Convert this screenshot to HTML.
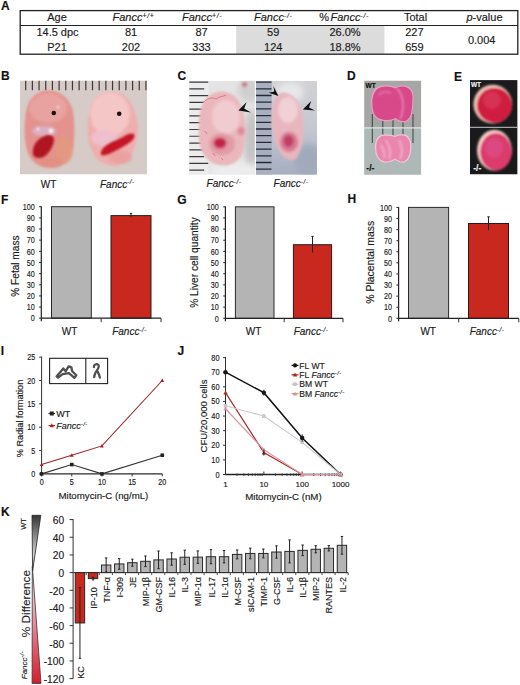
<!DOCTYPE html>
<html><head><meta charset="utf-8"><style>
html,body{margin:0;padding:0;background:#fff;}
body{width:520px;height:685px;overflow:hidden;font-family:"Liberation Sans", sans-serif;}
svg{display:block;}
text{stroke:#1a1a1a;stroke-width:0.15px;}
text.w{stroke:#f4f4f4;}
</style></head><body>
<svg width="520" height="685" viewBox="0 0 520 685" font-family='"Liberation Sans", sans-serif'>
<defs>
<filter id="blur06" x="-20%" y="-20%" width="140%" height="140%"><feGaussianBlur stdDeviation="0.75"/></filter>
<filter id="b30" x="-50%" y="-50%" width="200%" height="200%"><feGaussianBlur stdDeviation="3"/></filter>
<filter id="b15" x="-20%" y="-20%" width="140%" height="140%"><feGaussianBlur stdDeviation="1.5"/></filter>
<filter id="b10" x="-20%" y="-20%" width="140%" height="140%"><feGaussianBlur stdDeviation="1.0"/></filter>
<filter id="b06" x="-20%" y="-20%" width="140%" height="140%"><feGaussianBlur stdDeviation="0.6"/></filter>
<filter id="b08" x="-20%" y="-20%" width="140%" height="140%"><feGaussianBlur stdDeviation="0.8"/></filter>
<linearGradient id="gC1" x1="0" y1="0" x2="1" y2="0"><stop offset="0" stop-color="#dcdcdc"/><stop offset="0.6" stop-color="#e8e8e8"/><stop offset="1" stop-color="#c8c8c8"/></linearGradient>
<linearGradient id="gC2" x1="0" y1="0" x2="0" y2="1"><stop offset="0" stop-color="#d2d2d4"/><stop offset="0.5" stop-color="#c4c8d0"/><stop offset="1" stop-color="#a6aec0"/></linearGradient>
<pattern id="noiseB" width="8" height="8" patternUnits="userSpaceOnUse"><rect width="8" height="8" fill="#d9d5d1"/><rect x="1" y="2" width="1" height="1" fill="#b8b2ac"/><rect x="5" y="5" width="1" height="1" fill="#ece8e4"/><rect x="6" y="1" width="1" height="1" fill="#c0bab4"/><rect x="3" y="6" width="1" height="1" fill="#e8e4e0"/></pattern>
<linearGradient id="gwt" x1="0" y1="0" x2="0" y2="1"><stop offset="0" stop-color="#363636"/><stop offset="0.72" stop-color="#d4d4d4"/><stop offset="1" stop-color="#909090"/></linearGradient>
<linearGradient id="gko" x1="0" y1="0" x2="0" y2="1"><stop offset="0" stop-color="#fbe8ea"/><stop offset="0.3" stop-color="#f2b8c0"/><stop offset="0.6" stop-color="#e4707e"/><stop offset="1" stop-color="#d61c2c"/></linearGradient>
</defs>
<rect width="520" height="685" fill="#fff"/>
<text x="1.00" y="9.90" font-size="12" text-anchor="start" font-weight="bold" fill="#111">A</text>
<rect x="236.2" y="26" width="148.2" height="28" fill="#dcdcdc"/>
<rect x="20.2" y="10.6" width="497.6" height="43.6" fill="none" stroke="#222" stroke-width="1.3"/>
<line x1="20" y1="25.5" x2="518" y2="25.5" stroke="#222" stroke-width="1.2"/>
<text x="57.00" y="21.20" font-size="11" text-anchor="middle" fill="#1a1a1a">Age</text>
<text x="57.50" y="36.00" font-size="11" text-anchor="middle" fill="#1a1a1a">14.5 dpc</text>
<text x="57.00" y="51.00" font-size="11" text-anchor="middle" fill="#1a1a1a">P21</text>
<text x="112.5" y="21.2" font-size="11" fill="#1a1a1a"><tspan font-style="italic">Fancc</tspan><tspan font-size="6.8" dy="-2.8" letter-spacing="0.7" font-style="italic">+/+</tspan></text>
<text x="182" y="21.2" font-size="11" fill="#1a1a1a"><tspan font-style="italic">Fancc</tspan><tspan font-size="6.8" dy="-2.8" letter-spacing="0.7" font-style="italic">+/-</tspan></text>
<text x="254" y="21.2" font-size="11" fill="#1a1a1a"><tspan font-style="italic">Fancc</tspan><tspan font-size="6.8" dy="-2.8" letter-spacing="0.7" font-style="italic">-/-</tspan></text>
<text x="319.3" y="21.2" font-size="11" fill="#1a1a1a">%<tspan font-size="5"> </tspan><tspan font-style="italic">Fancc</tspan><tspan font-size="6.8" dy="-2.8" letter-spacing="0.7" font-style="italic">-/-</tspan></text>
<text x="131.00" y="36.00" font-size="11" text-anchor="middle" fill="#1a1a1a">81</text>
<text x="131.00" y="51.00" font-size="11" text-anchor="middle" fill="#1a1a1a">202</text>
<text x="201.50" y="36.00" font-size="11" text-anchor="middle" fill="#1a1a1a">87</text>
<text x="201.50" y="51.00" font-size="11" text-anchor="middle" fill="#1a1a1a">333</text>
<text x="273.20" y="36.00" font-size="11" text-anchor="middle" fill="#1a1a1a">59</text>
<text x="273.20" y="51.00" font-size="11" text-anchor="middle" fill="#1a1a1a">124</text>
<text x="345.00" y="36.00" font-size="11" text-anchor="middle" fill="#1a1a1a">26.0%</text>
<text x="345.00" y="51.00" font-size="11" text-anchor="middle" fill="#1a1a1a">18.8%</text>
<text x="415.50" y="21.20" font-size="11" text-anchor="middle" fill="#1a1a1a">Total</text>
<text x="414.40" y="36.00" font-size="11" text-anchor="middle" fill="#1a1a1a">227</text>
<text x="414.40" y="51.00" font-size="11" text-anchor="middle" fill="#1a1a1a">659</text>
<text x="484.5" y="21.2" font-size="11" text-anchor="middle" fill="#1a1a1a"><tspan font-style="italic">p</tspan>-value</text>
<text x="481.70" y="43.60" font-size="11" text-anchor="middle" fill="#1a1a1a">0.004</text>
<clipPath id="cB"><rect x="20" y="80.5" width="127.2" height="94"/></clipPath>
<g clip-path="url(#cB)">
<rect x="20" y="80.5" width="127.2" height="94" fill="#d6cbc6"/>
<line x1="25.70" y1="80.5" x2="25.70" y2="90.2" stroke="#3a3a3a" stroke-width="1.2"/>
<line x1="32.38" y1="80.5" x2="32.38" y2="90.2" stroke="#3a3a3a" stroke-width="1.2"/>
<line x1="39.06" y1="80.5" x2="39.06" y2="90.2" stroke="#3a3a3a" stroke-width="1.2"/>
<line x1="45.74" y1="80.5" x2="45.74" y2="90.2" stroke="#3a3a3a" stroke-width="1.2"/>
<line x1="52.42" y1="80.5" x2="52.42" y2="90.2" stroke="#3a3a3a" stroke-width="1.2"/>
<line x1="59.10" y1="80.5" x2="59.10" y2="90.2" stroke="#3a3a3a" stroke-width="1.2"/>
<line x1="65.78" y1="80.5" x2="65.78" y2="90.2" stroke="#3a3a3a" stroke-width="1.2"/>
<line x1="72.46" y1="80.5" x2="72.46" y2="90.2" stroke="#3a3a3a" stroke-width="1.2"/>
<line x1="79.14" y1="80.5" x2="79.14" y2="90.2" stroke="#3a3a3a" stroke-width="1.2"/>
<line x1="85.82" y1="80.5" x2="85.82" y2="90.2" stroke="#3a3a3a" stroke-width="1.2"/>
<line x1="92.50" y1="80.5" x2="92.50" y2="90.2" stroke="#3a3a3a" stroke-width="1.2"/>
<line x1="99.18" y1="80.5" x2="99.18" y2="90.2" stroke="#3a3a3a" stroke-width="1.2"/>
<line x1="105.86" y1="80.5" x2="105.86" y2="90.2" stroke="#3a3a3a" stroke-width="1.2"/>
<line x1="112.54" y1="80.5" x2="112.54" y2="90.2" stroke="#3a3a3a" stroke-width="1.2"/>
<line x1="119.22" y1="80.5" x2="119.22" y2="90.2" stroke="#3a3a3a" stroke-width="1.2"/>
<line x1="125.90" y1="80.5" x2="125.90" y2="90.2" stroke="#3a3a3a" stroke-width="1.2"/>
<line x1="132.58" y1="80.5" x2="132.58" y2="90.2" stroke="#3a3a3a" stroke-width="1.2"/>
<line x1="139.26" y1="80.5" x2="139.26" y2="90.2" stroke="#3a3a3a" stroke-width="1.2"/>
<line x1="145.94" y1="80.5" x2="145.94" y2="90.2" stroke="#3a3a3a" stroke-width="1.2"/>
<g filter="url(#b10)">
<path d="M47,90.5 C58,90 68,96 72,108 C75,118 75,135 73,148 C71,160 63,168 52,168 C40,168 30,162 27,150 C24,140 24,125 26,112 C28,100 36,91 47,90.5 Z" fill="#e4928e"/>
</g>
<g filter="url(#b15)">
<ellipse cx="48" cy="108" rx="19" ry="15" fill="#e8a2a0"/>
<ellipse cx="64" cy="150" rx="9" ry="14" fill="#e29a7c" opacity="0.7"/>
<ellipse cx="44" cy="131" rx="12" ry="5" fill="#dcb0c4"/>
<ellipse cx="50" cy="162" rx="12" ry="4" fill="#e0907a" opacity="0.6"/>
</g>
<g filter="url(#b10)">
<path d="M33,150 C34,142 41,136 49,135 C55,135 55,141 52,147 C49,153 45,158 39,158 C34,158 32,155 33,150 Z" fill="#b01224"/>
<circle cx="51" cy="131" r="2.4" fill="#f6eef0"/>
<circle cx="38" cy="129" r="1.5" fill="#f4e8ea"/>
<circle cx="58" cy="107" r="1.2" fill="#f6e8ea"/>
</g>
<circle cx="53.8" cy="113" r="2.3" fill="#1e1012"/>
<g filter="url(#b10)">
<path d="M113.4,91.9 C124,92 132,102 135.5,114 C138,122 138.5,132 136,142 C134,152 127,163 117,165.6 C108,167 98,163 93,153 C89,146 87.5,136 87.8,126 C88,115 91,104 98,97 C102,93.5 108,91.9 113.4,91.9 Z" fill="#eeaeae"/>
</g>
<g filter="url(#b15)">
<ellipse cx="110" cy="114" rx="20" ry="22" fill="#f4c6c6"/>
<ellipse cx="104" cy="138" rx="13" ry="8" fill="#eec0cc"/>
<ellipse cx="120" cy="157" rx="12" ry="7" fill="#eaa2a0"/>
</g>
<g filter="url(#b08)">
<path d="M101,152 C103,146 111,142 119,139 C125,136 130,132 134,134 C136,138 131,142 126,145 C119,149 112,153 106,155 C102,156 100,155 101,152 Z" fill="#c41628"/>
</g>
<circle cx="119.2" cy="113.8" r="2.3" fill="#1e1012"/>
</g>
<clipPath id="cC1"><rect x="189.2" y="80.8" width="65.6" height="93.6"/></clipPath>
<clipPath id="cC2"><rect x="255.8" y="80.8" width="61.2" height="94"/></clipPath>
<g clip-path="url(#cC1)">
<rect x="189.2" y="80.8" width="66" height="94" fill="#e4e4e4"/>
<g filter="url(#b30)">
<ellipse cx="250" cy="90" rx="12" ry="12" fill="#cfcfcf"/>
<ellipse cx="252" cy="140" rx="8" ry="30" fill="#c4c4c4"/>
<ellipse cx="235" cy="170" rx="25" ry="8" fill="#ededed"/>
</g>
<rect x="189.2" y="80.8" width="19.5" height="94" fill="#ececec"/>
<line x1="189.2" y1="82.10" x2="208.2" y2="82.10" stroke="#3a3a3e" stroke-width="1.2"/>
<line x1="189.2" y1="88.87" x2="204.2" y2="88.87" stroke="#3a3a3e" stroke-width="1.2"/>
<line x1="189.2" y1="95.64" x2="208.2" y2="95.64" stroke="#3a3a3e" stroke-width="1.2"/>
<line x1="189.2" y1="102.41" x2="204.2" y2="102.41" stroke="#3a3a3e" stroke-width="1.2"/>
<line x1="189.2" y1="109.18" x2="208.2" y2="109.18" stroke="#3a3a3e" stroke-width="1.2"/>
<line x1="189.2" y1="115.95" x2="204.2" y2="115.95" stroke="#3a3a3e" stroke-width="1.2"/>
<line x1="189.2" y1="122.72" x2="208.2" y2="122.72" stroke="#3a3a3e" stroke-width="1.2"/>
<line x1="189.2" y1="129.49" x2="204.2" y2="129.49" stroke="#3a3a3e" stroke-width="1.2"/>
<line x1="189.2" y1="136.26" x2="208.2" y2="136.26" stroke="#3a3a3e" stroke-width="1.2"/>
<line x1="189.2" y1="143.03" x2="204.2" y2="143.03" stroke="#3a3a3e" stroke-width="1.2"/>
<line x1="189.2" y1="149.80" x2="208.2" y2="149.80" stroke="#3a3a3e" stroke-width="1.2"/>
<line x1="189.2" y1="156.57" x2="204.2" y2="156.57" stroke="#3a3a3e" stroke-width="1.2"/>
<line x1="189.2" y1="163.34" x2="208.2" y2="163.34" stroke="#3a3a3e" stroke-width="1.2"/>
<line x1="189.2" y1="170.11" x2="204.2" y2="170.11" stroke="#3a3a3e" stroke-width="1.2"/>
<g filter="url(#b10)">
<path d="M222,91.5 C233,91.5 241,100 243.5,112 C246,124 246,140 243,152 C240,161 232,166 223,165.5 C212,165 203,158 200,146 C198,136 198,120 201,108 C204,98 212,91.5 222,91.5 Z" fill="#eab8bc"/>
</g>
<g filter="url(#b15)">
<ellipse cx="226" cy="117" rx="14" ry="17" fill="#f0ccd0"/>
<ellipse cx="222" cy="144" rx="13" ry="11" fill="#e29aa6"/>
<ellipse cx="220" cy="143" rx="6.5" ry="5.5" fill="#c42448"/>
<ellipse cx="241" cy="131" rx="3.5" ry="4" fill="#e08898"/>
<ellipse cx="244.5" cy="84.5" rx="2.5" ry="2" fill="#d05a6a"/>
</g>
<g filter="url(#b06)" fill="none" stroke="#d86878" stroke-width="0.8">
<path d="M203,103 C207,98 212,97 216,99 C219,96 223,97 226,95"/>
<path d="M213,153 L215,156 M221,158 L223,160 M205,131 L207,134"/>
</g>
<path d="M238.4,110.4 L246.6,102 L244.2,108.6 L251,112.6 Z" fill="#111"/>
</g>
<g clip-path="url(#cC2)">
<rect x="255.8" y="80.8" width="62" height="94" fill="url(#gC2)"/>
<g filter="url(#b30)">
<ellipse cx="290" cy="92" rx="14" ry="10" fill="#e8e8ea"/>
<ellipse cx="308" cy="160" rx="14" ry="16" fill="#a0aabb"/>
</g>
<rect x="255.8" y="80.8" width="16" height="94" fill="#a8b0c0"/>
<line x1="255.8" y1="82.10" x2="271.5" y2="82.10" stroke="#262a36" stroke-width="1.3"/>
<line x1="255.8" y1="88.80" x2="271.5" y2="88.80" stroke="#262a36" stroke-width="1.3"/>
<line x1="255.8" y1="95.50" x2="271.5" y2="95.50" stroke="#262a36" stroke-width="1.3"/>
<line x1="255.8" y1="102.20" x2="271.5" y2="102.20" stroke="#262a36" stroke-width="1.3"/>
<line x1="255.8" y1="108.90" x2="271.5" y2="108.90" stroke="#262a36" stroke-width="1.3"/>
<line x1="255.8" y1="115.60" x2="271.5" y2="115.60" stroke="#262a36" stroke-width="1.3"/>
<line x1="255.8" y1="122.30" x2="271.5" y2="122.30" stroke="#262a36" stroke-width="1.3"/>
<line x1="255.8" y1="129.00" x2="271.5" y2="129.00" stroke="#262a36" stroke-width="1.3"/>
<line x1="255.8" y1="135.70" x2="271.5" y2="135.70" stroke="#262a36" stroke-width="1.3"/>
<line x1="255.8" y1="142.40" x2="271.5" y2="142.40" stroke="#262a36" stroke-width="1.3"/>
<line x1="255.8" y1="149.10" x2="271.5" y2="149.10" stroke="#262a36" stroke-width="1.3"/>
<line x1="255.8" y1="155.80" x2="271.5" y2="155.80" stroke="#262a36" stroke-width="1.3"/>
<line x1="255.8" y1="162.50" x2="271.5" y2="162.50" stroke="#262a36" stroke-width="1.3"/>
<line x1="255.8" y1="169.20" x2="271.5" y2="169.20" stroke="#262a36" stroke-width="1.3"/>
<g filter="url(#b10)">
<path d="M283.4,92.6 C293,92.6 300,102 302.3,114.5 C304,124 304,133 303,139 C301,150 298,158 294.3,159.7 C289,161.5 284,158 281.2,153.8 C276,146 272.5,135 271.7,121.7 C271.5,112 272,106 273.9,101.3 C276,96 279,92.6 283.4,92.6 Z" fill="#e8b6be"/>
</g>
<g filter="url(#b15)">
<ellipse cx="288" cy="110" rx="10" ry="13" fill="#f0d0d4"/>
<ellipse cx="289" cy="142" rx="9" ry="10" fill="#d87894"/>
<ellipse cx="288.5" cy="141" rx="5" ry="6" fill="#c03c64"/>
</g>
<path d="M273.4,86 L278.4,96 L268.8,92.8 L274.2,91.4 Z" fill="#111"/>
<path d="M302.8,109.6 L311.2,101 L309,107.5 L315,110.6 Z" fill="#111"/>
</g>
<clipPath id="cD"><rect x="364.1" y="80.5" width="57.2" height="94.3"/></clipPath>
<g clip-path="url(#cD)">
<rect x="364.1" y="80.5" width="57.2" height="47.5" fill="#a6a6a5"/>
<rect x="364.1" y="128" width="57.2" height="47" fill="#aeb8b7"/>
<line x1="372.3" y1="114" x2="372.3" y2="143" stroke="#3a4244" stroke-width="1"/>
<line x1="382.8" y1="114" x2="382.8" y2="143" stroke="#3a4244" stroke-width="1"/>
<line x1="393" y1="114" x2="393" y2="143" stroke="#3a4244" stroke-width="1"/>
<line x1="403" y1="114" x2="403" y2="143" stroke="#3a4244" stroke-width="1"/>
<line x1="413" y1="114" x2="413" y2="143" stroke="#3a4244" stroke-width="1"/>
<line x1="364" y1="127.9" x2="422" y2="127.9" stroke="#dde8ea" stroke-width="1.2"/>
<g filter="url(#b06)">
<path d="M371.2,104 C370.6,94 374,87.5 380,86 C385,84.8 391,85 395.8,87.4 C399,85 404,84.4 408,86.6 C413,89.5 414,94 413.4,100 C413,107 413,112 411,117 C409,121 406,122.6 402,122.2 C399,121.8 397,120.4 395.8,119.2 C393,120.8 388,121.6 383,121 C377.5,120 373.5,117 372.4,112 C371.6,109 371.3,107 371.2,104 Z" fill="#e8a0c0"/>
<path d="M372.4,104 C372,95 375,89 381,87.2 C386,86 391,86.4 395.4,88.6 C398.6,86.4 403.6,85.8 407.4,87.8 C412,90.5 413,95 412.4,100 C412,107 412,112 410,116.4 C408,120 405.6,121.4 402,121 C399,120.6 397.2,119.2 395.8,118 C393,119.6 388,120.4 383.4,119.8 C378,119 374.4,116 373.4,111.6 C372.8,109 372.5,107 372.4,104 Z" fill="#d8498a"/>
</g>
<g filter="url(#b08)" fill="none" stroke="#ee94bc" stroke-width="1.3">
<path d="M397,88.5 C401,93 403.5,100 403,107 C402.6,112 401.6,116 400,119"/>
<path d="M378,95 C382,92 387,91 391,93" stroke="#e070a4" stroke-width="2"/>
</g>
<g filter="url(#b06)">
<path d="M374.9,147 C374.9,139 379,135 383,134.6 C387,134.2 392,134.6 395,135.8 C398,134.2 402,133.8 405,134.6 C410,136.5 411.6,142 411.4,147 C411.2,154 409.5,160 404.7,162.4 C401,163.5 397.5,161.5 395,159.8 C392.5,161.5 388,163.4 383.8,162.4 C378.5,161 375.6,156 375.2,151 Z" fill="#f4c4d8"/>
<path d="M376.2,147 C376.2,140 379.6,136.2 383.4,135.8 C387,135.4 391.6,135.8 395,137 C398,135.6 402,135.2 404.6,135.8 C409,137.6 410.3,142.5 410.2,147 C410,153.5 408.4,159 404.2,161.2 C401,162.2 397.6,160.5 395,158.6 C392.4,160.4 388,162.2 384.2,161.2 C379.4,160 376.8,155.5 376.4,151 Z" fill="#ea86ae"/>
</g>
<g filter="url(#b10)" fill="none" stroke="#f6d8e6" stroke-width="1">
<path d="M386,140 C390,146 391,153 389,159"/><path d="M399,140 C402,146 403,153 400,159"/><path d="M381,145 C384,150 385,155 384,158"/>
</g>
<text x="365.50" y="87.60" font-size="6.5" text-anchor="start" font-weight="bold" fill="#0a0a0a">WT</text>
<text x="366.30" y="171.20" font-size="8.5" text-anchor="start" font-weight="bold" fill="#0a0a0a">-/-</text>
</g>
<clipPath id="cE"><rect x="469.9" y="80.1" width="47.7" height="94.4"/></clipPath>
<g clip-path="url(#cE)">
<rect x="469.9" y="80.1" width="47.7" height="94.4" fill="#1a1a1c"/>
<line x1="469" y1="127.3" x2="519" y2="127.3" stroke="#c8c8c8" stroke-width="1"/>
<g filter="url(#b08)">
<circle cx="492.8" cy="104.2" r="19.4" fill="#eac0b4"/>
<circle cx="494.6" cy="105.4" r="17.5" fill="#d01e40"/>
<ellipse cx="494.4" cy="150.2" rx="17.4" ry="20.4" fill="#f0ccc4"/>
<ellipse cx="496" cy="151.8" rx="15.7" ry="18.6" fill="#dc3a6c"/>
</g>
<g filter="url(#b15)">
<ellipse cx="492" cy="100" rx="9" ry="9" fill="#d83a5c" opacity="0.7"/>
<ellipse cx="494" cy="148" rx="9" ry="10" fill="#dc5088" opacity="0.7"/>
</g>
<text x="470.90" y="87.20" font-size="6.5" text-anchor="start" font-weight="bold" fill="#f4f4f4" class="w">WT</text>
<text x="473.20" y="171.00" font-size="8.5" text-anchor="start" font-weight="bold" fill="#f4f4f4" class="w">-/-</text>
</g>
<text x="1.10" y="80.30" font-size="12" text-anchor="start" font-weight="bold" fill="#111">B</text>
<text x="177.50" y="80.40" font-size="12" text-anchor="start" font-weight="bold" fill="#111">C</text>
<text x="347.00" y="80.40" font-size="12" text-anchor="start" font-weight="bold" fill="#111">D</text>
<text x="454.00" y="80.60" font-size="12" text-anchor="start" font-weight="bold" fill="#111">E</text>
<text x="48.50" y="187.60" font-size="10" text-anchor="middle" fill="#1a1a1a">WT</text>
<text x="100" y="187.6" font-size="10" fill="#1a1a1a"><tspan font-style="italic">Fancc</tspan><tspan font-size="6.3" dy="-3.2" letter-spacing="0.5" font-style="italic">-/-</tspan></text>
<text x="206.6" y="187.4" font-size="10" fill="#1a1a1a"><tspan font-style="italic">Fancc</tspan><tspan font-size="6.3" dy="-3.2" letter-spacing="0.5" font-style="italic">-/-</tspan></text>
<text x="273.6" y="187.4" font-size="10" fill="#1a1a1a"><tspan font-style="italic">Fancc</tspan><tspan font-size="6.3" dy="-3.2" letter-spacing="0.5" font-style="italic">-/-</tspan></text>
<text x="1.00" y="203.80" font-size="12" text-anchor="start" font-weight="bold" fill="#111">F</text>
<text x="177.30" y="203.80" font-size="12" text-anchor="start" font-weight="bold" fill="#111">G</text>
<text x="347.50" y="203.40" font-size="12" text-anchor="start" font-weight="bold" fill="#111">H</text>
<rect x="51.5" y="206.7" width="39.8" height="111.5" fill="#b4b4b4" stroke="#2a2a2a" stroke-width="1"/>
<rect x="111" y="215.62" width="40" height="102.57999999999998" fill="#c8281e" stroke="#2a1a1a" stroke-width="1"/>
<line x1="131.0" y1="213.39" x2="131.0" y2="217.2925" stroke="#222" stroke-width="1"/>
<line x1="129.8" y1="213.39" x2="132.2" y2="213.39" stroke="#222" stroke-width="1"/>
<line x1="41.3" y1="206.2" x2="41.3" y2="321.2" stroke="#222" stroke-width="1.2"/>
<line x1="41.3" y1="318.2" x2="161.0" y2="318.2" stroke="#222" stroke-width="1.2"/>
<line x1="101.15" y1="318.2" x2="101.15" y2="322.2" stroke="#333" stroke-width="1"/>
<line x1="161.0" y1="318.2" x2="161.0" y2="322.2" stroke="#333" stroke-width="1"/>
<line x1="39.099999999999994" y1="318.2" x2="41.3" y2="318.2" stroke="#333" stroke-width="1.1"/>
<text x="0" y="0" font-size="8.9" text-anchor="end" fill="#1a1a1a" transform="translate(34.70 321.40) scale(0.81 1)">0</text>
<line x1="39.099999999999994" y1="307.05" x2="41.3" y2="307.05" stroke="#333" stroke-width="1.1"/>
<text x="0" y="0" font-size="8.9" text-anchor="end" fill="#1a1a1a" transform="translate(34.70 310.25) scale(0.81 1)">10</text>
<line x1="39.099999999999994" y1="295.9" x2="41.3" y2="295.9" stroke="#333" stroke-width="1.1"/>
<text x="0" y="0" font-size="8.9" text-anchor="end" fill="#1a1a1a" transform="translate(34.70 299.10) scale(0.81 1)">20</text>
<line x1="39.099999999999994" y1="284.75" x2="41.3" y2="284.75" stroke="#333" stroke-width="1.1"/>
<text x="0" y="0" font-size="8.9" text-anchor="end" fill="#1a1a1a" transform="translate(34.70 287.95) scale(0.81 1)">30</text>
<line x1="39.099999999999994" y1="273.59999999999997" x2="41.3" y2="273.59999999999997" stroke="#333" stroke-width="1.1"/>
<text x="0" y="0" font-size="8.9" text-anchor="end" fill="#1a1a1a" transform="translate(34.70 276.80) scale(0.81 1)">40</text>
<line x1="39.099999999999994" y1="262.45" x2="41.3" y2="262.45" stroke="#333" stroke-width="1.1"/>
<text x="0" y="0" font-size="8.9" text-anchor="end" fill="#1a1a1a" transform="translate(34.70 265.65) scale(0.81 1)">50</text>
<line x1="39.099999999999994" y1="251.29999999999998" x2="41.3" y2="251.29999999999998" stroke="#333" stroke-width="1.1"/>
<text x="0" y="0" font-size="8.9" text-anchor="end" fill="#1a1a1a" transform="translate(34.70 254.50) scale(0.81 1)">60</text>
<line x1="39.099999999999994" y1="240.14999999999998" x2="41.3" y2="240.14999999999998" stroke="#333" stroke-width="1.1"/>
<text x="0" y="0" font-size="8.9" text-anchor="end" fill="#1a1a1a" transform="translate(34.70 243.35) scale(0.81 1)">70</text>
<line x1="39.099999999999994" y1="229.0" x2="41.3" y2="229.0" stroke="#333" stroke-width="1.1"/>
<text x="0" y="0" font-size="8.9" text-anchor="end" fill="#1a1a1a" transform="translate(34.70 232.20) scale(0.81 1)">80</text>
<line x1="39.099999999999994" y1="217.85" x2="41.3" y2="217.85" stroke="#333" stroke-width="1.1"/>
<text x="0" y="0" font-size="8.9" text-anchor="end" fill="#1a1a1a" transform="translate(34.70 221.05) scale(0.81 1)">90</text>
<line x1="39.099999999999994" y1="206.7" x2="41.3" y2="206.7" stroke="#333" stroke-width="1.1"/>
<text x="0" y="0" font-size="8.9" text-anchor="end" fill="#1a1a1a" transform="translate(34.70 209.90) scale(0.81 1)">100</text>
<text x="69.60" y="334.70" font-size="10" text-anchor="middle" fill="#1a1a1a">WT</text>
<text x="129.5" y="334.7" font-size="10" text-anchor="middle" fill="#1a1a1a"><tspan font-style="italic">Fancc</tspan><tspan font-size="6.3" dy="-3.2" letter-spacing="0.5" font-style="italic">-/-</tspan></text>
<text x="18.60" y="266.10" font-size="10.1" text-anchor="middle" fill="#1a1a1a" transform="rotate(-90 18.6 266.1)">% Fetal mass</text>
<rect x="235.4" y="206.8" width="38.599999999999994" height="111.5" fill="#b4b4b4" stroke="#2a2a2a" stroke-width="1"/>
<rect x="293.4" y="244.71" width="38.200000000000045" height="73.59" fill="#c8281e" stroke="#2a1a1a" stroke-width="1"/>
<line x1="312.5" y1="236.34750000000003" x2="312.5" y2="252.51500000000001" stroke="#222" stroke-width="1"/>
<line x1="311.3" y1="236.34750000000003" x2="313.7" y2="236.34750000000003" stroke="#222" stroke-width="1"/>
<line x1="225.4" y1="206.3" x2="225.4" y2="321.3" stroke="#222" stroke-width="1.2"/>
<line x1="225.4" y1="318.3" x2="343.0" y2="318.3" stroke="#222" stroke-width="1.2"/>
<line x1="284.2" y1="318.3" x2="284.2" y2="322.3" stroke="#333" stroke-width="1"/>
<line x1="343.0" y1="318.3" x2="343.0" y2="322.3" stroke="#333" stroke-width="1"/>
<line x1="223.20000000000002" y1="318.3" x2="225.4" y2="318.3" stroke="#333" stroke-width="1.1"/>
<text x="0" y="0" font-size="8.9" text-anchor="end" fill="#1a1a1a" transform="translate(218.80 321.50) scale(0.81 1)">0</text>
<line x1="223.20000000000002" y1="307.15000000000003" x2="225.4" y2="307.15000000000003" stroke="#333" stroke-width="1.1"/>
<text x="0" y="0" font-size="8.9" text-anchor="end" fill="#1a1a1a" transform="translate(218.80 310.35) scale(0.81 1)">10</text>
<line x1="223.20000000000002" y1="296.0" x2="225.4" y2="296.0" stroke="#333" stroke-width="1.1"/>
<text x="0" y="0" font-size="8.9" text-anchor="end" fill="#1a1a1a" transform="translate(218.80 299.20) scale(0.81 1)">20</text>
<line x1="223.20000000000002" y1="284.85" x2="225.4" y2="284.85" stroke="#333" stroke-width="1.1"/>
<text x="0" y="0" font-size="8.9" text-anchor="end" fill="#1a1a1a" transform="translate(218.80 288.05) scale(0.81 1)">30</text>
<line x1="223.20000000000002" y1="273.7" x2="225.4" y2="273.7" stroke="#333" stroke-width="1.1"/>
<text x="0" y="0" font-size="8.9" text-anchor="end" fill="#1a1a1a" transform="translate(218.80 276.90) scale(0.81 1)">40</text>
<line x1="223.20000000000002" y1="262.55" x2="225.4" y2="262.55" stroke="#333" stroke-width="1.1"/>
<text x="0" y="0" font-size="8.9" text-anchor="end" fill="#1a1a1a" transform="translate(218.80 265.75) scale(0.81 1)">50</text>
<line x1="223.20000000000002" y1="251.4" x2="225.4" y2="251.4" stroke="#333" stroke-width="1.1"/>
<text x="0" y="0" font-size="8.9" text-anchor="end" fill="#1a1a1a" transform="translate(218.80 254.60) scale(0.81 1)">60</text>
<line x1="223.20000000000002" y1="240.25" x2="225.4" y2="240.25" stroke="#333" stroke-width="1.1"/>
<text x="0" y="0" font-size="8.9" text-anchor="end" fill="#1a1a1a" transform="translate(218.80 243.45) scale(0.81 1)">70</text>
<line x1="223.20000000000002" y1="229.10000000000002" x2="225.4" y2="229.10000000000002" stroke="#333" stroke-width="1.1"/>
<text x="0" y="0" font-size="8.9" text-anchor="end" fill="#1a1a1a" transform="translate(218.80 232.30) scale(0.81 1)">80</text>
<line x1="223.20000000000002" y1="217.95000000000002" x2="225.4" y2="217.95000000000002" stroke="#333" stroke-width="1.1"/>
<text x="0" y="0" font-size="8.9" text-anchor="end" fill="#1a1a1a" transform="translate(218.80 221.15) scale(0.81 1)">90</text>
<line x1="223.20000000000002" y1="206.8" x2="225.4" y2="206.8" stroke="#333" stroke-width="1.1"/>
<text x="0" y="0" font-size="8.9" text-anchor="end" fill="#1a1a1a" transform="translate(218.80 210.00) scale(0.81 1)">100</text>
<text x="253.50" y="334.80" font-size="10" text-anchor="middle" fill="#1a1a1a">WT</text>
<text x="311.0" y="334.8" font-size="10" text-anchor="middle" fill="#1a1a1a"><tspan font-style="italic">Fancc</tspan><tspan font-size="6.3" dy="-3.2" letter-spacing="0.5" font-style="italic">-/-</tspan></text>
<text x="198.40" y="262.50" font-size="10.2" text-anchor="middle" fill="#1a1a1a" transform="rotate(-90 198.4 262.5)">% Liver cell quantity</text>
<rect x="408.5" y="207.4" width="40.10000000000002" height="110.9" fill="#b4b4b4" stroke="#2a2a2a" stroke-width="1"/>
<rect x="468.5" y="223.4805" width="40.0" height="94.8195" fill="#c8281e" stroke="#2a1a1a" stroke-width="1"/>
<line x1="488.5" y1="216.8265" x2="488.5" y2="230.1345" stroke="#222" stroke-width="1"/>
<line x1="487.3" y1="216.8265" x2="489.7" y2="216.8265" stroke="#222" stroke-width="1"/>
<line x1="398.6" y1="206.9" x2="398.6" y2="321.3" stroke="#222" stroke-width="1.2"/>
<line x1="398.6" y1="318.3" x2="518.8" y2="318.3" stroke="#222" stroke-width="1.2"/>
<line x1="458.7" y1="318.3" x2="458.7" y2="322.3" stroke="#333" stroke-width="1"/>
<line x1="518.8" y1="318.3" x2="518.8" y2="322.3" stroke="#333" stroke-width="1"/>
<line x1="396.40000000000003" y1="318.3" x2="398.6" y2="318.3" stroke="#333" stroke-width="1.1"/>
<text x="0" y="0" font-size="8.9" text-anchor="end" fill="#1a1a1a" transform="translate(392.00 321.50) scale(0.81 1)">0</text>
<line x1="396.40000000000003" y1="307.21000000000004" x2="398.6" y2="307.21000000000004" stroke="#333" stroke-width="1.1"/>
<text x="0" y="0" font-size="8.9" text-anchor="end" fill="#1a1a1a" transform="translate(392.00 310.41) scale(0.81 1)">10</text>
<line x1="396.40000000000003" y1="296.12" x2="398.6" y2="296.12" stroke="#333" stroke-width="1.1"/>
<text x="0" y="0" font-size="8.9" text-anchor="end" fill="#1a1a1a" transform="translate(392.00 299.32) scale(0.81 1)">20</text>
<line x1="396.40000000000003" y1="285.03000000000003" x2="398.6" y2="285.03000000000003" stroke="#333" stroke-width="1.1"/>
<text x="0" y="0" font-size="8.9" text-anchor="end" fill="#1a1a1a" transform="translate(392.00 288.23) scale(0.81 1)">30</text>
<line x1="396.40000000000003" y1="273.94" x2="398.6" y2="273.94" stroke="#333" stroke-width="1.1"/>
<text x="0" y="0" font-size="8.9" text-anchor="end" fill="#1a1a1a" transform="translate(392.00 277.14) scale(0.81 1)">40</text>
<line x1="396.40000000000003" y1="262.85" x2="398.6" y2="262.85" stroke="#333" stroke-width="1.1"/>
<text x="0" y="0" font-size="8.9" text-anchor="end" fill="#1a1a1a" transform="translate(392.00 266.05) scale(0.81 1)">50</text>
<line x1="396.40000000000003" y1="251.76000000000002" x2="398.6" y2="251.76000000000002" stroke="#333" stroke-width="1.1"/>
<text x="0" y="0" font-size="8.9" text-anchor="end" fill="#1a1a1a" transform="translate(392.00 254.96) scale(0.81 1)">60</text>
<line x1="396.40000000000003" y1="240.67000000000002" x2="398.6" y2="240.67000000000002" stroke="#333" stroke-width="1.1"/>
<text x="0" y="0" font-size="8.9" text-anchor="end" fill="#1a1a1a" transform="translate(392.00 243.87) scale(0.81 1)">70</text>
<line x1="396.40000000000003" y1="229.58" x2="398.6" y2="229.58" stroke="#333" stroke-width="1.1"/>
<text x="0" y="0" font-size="8.9" text-anchor="end" fill="#1a1a1a" transform="translate(392.00 232.78) scale(0.81 1)">80</text>
<line x1="396.40000000000003" y1="218.49" x2="398.6" y2="218.49" stroke="#333" stroke-width="1.1"/>
<text x="0" y="0" font-size="8.9" text-anchor="end" fill="#1a1a1a" transform="translate(392.00 221.69) scale(0.81 1)">90</text>
<line x1="396.40000000000003" y1="207.4" x2="398.6" y2="207.4" stroke="#333" stroke-width="1.1"/>
<text x="0" y="0" font-size="8.9" text-anchor="end" fill="#1a1a1a" transform="translate(392.00 210.60) scale(0.81 1)">100</text>
<text x="428.15" y="334.80" font-size="10" text-anchor="middle" fill="#1a1a1a">WT</text>
<text x="487.0" y="334.8" font-size="10" text-anchor="middle" fill="#1a1a1a"><tspan font-style="italic">Fancc</tspan><tspan font-size="6.3" dy="-3.2" letter-spacing="0.5" font-style="italic">-/-</tspan></text>
<text x="374.30" y="262.20" font-size="10.45" text-anchor="middle" fill="#1a1a1a" transform="rotate(-90 374.3 262.2)">% Placental mass</text>
<text x="0.80" y="354.80" font-size="12" text-anchor="start" font-weight="bold" fill="#111">I</text>
<text x="177.50" y="354.60" font-size="12" text-anchor="start" font-weight="bold" fill="#111">J</text>
<line x1="41.6" y1="356.65" x2="41.6" y2="473.9" stroke="#333" stroke-width="1"/>
<line x1="41.6" y1="473.9" x2="162.28" y2="473.9" stroke="#2a2a2a" stroke-width="1.3"/>
<line x1="39.1" y1="473.9" x2="41.6" y2="473.9" stroke="#333" stroke-width="1"/>
<text x="0" y="0" font-size="8.4" text-anchor="end" fill="#1a1a1a" transform="translate(35.30 476.90) scale(0.85 1)">0</text>
<line x1="39.1" y1="450.54999999999995" x2="41.6" y2="450.54999999999995" stroke="#333" stroke-width="1"/>
<text x="0" y="0" font-size="8.4" text-anchor="end" fill="#1a1a1a" transform="translate(35.30 453.55) scale(0.85 1)">5</text>
<line x1="39.1" y1="427.2" x2="41.6" y2="427.2" stroke="#333" stroke-width="1"/>
<text x="0" y="0" font-size="8.4" text-anchor="end" fill="#1a1a1a" transform="translate(35.30 430.20) scale(0.85 1)">10</text>
<line x1="39.1" y1="403.84999999999997" x2="41.6" y2="403.84999999999997" stroke="#333" stroke-width="1"/>
<text x="0" y="0" font-size="8.4" text-anchor="end" fill="#1a1a1a" transform="translate(35.30 406.85) scale(0.85 1)">15</text>
<line x1="39.1" y1="380.5" x2="41.6" y2="380.5" stroke="#333" stroke-width="1"/>
<text x="0" y="0" font-size="8.4" text-anchor="end" fill="#1a1a1a" transform="translate(35.30 383.50) scale(0.85 1)">20</text>
<line x1="39.1" y1="357.15" x2="41.6" y2="357.15" stroke="#333" stroke-width="1"/>
<text x="0" y="0" font-size="8.4" text-anchor="end" fill="#1a1a1a" transform="translate(35.30 360.15) scale(0.85 1)">25</text>
<line x1="41.6" y1="473.9" x2="41.6" y2="476.4" stroke="#333" stroke-width="1"/>
<text x="0" y="0" font-size="8.4" text-anchor="middle" fill="#1a1a1a" transform="translate(41.60 485.40) scale(0.85 1)">0</text>
<line x1="71.77000000000001" y1="473.9" x2="71.77000000000001" y2="476.4" stroke="#333" stroke-width="1"/>
<text x="0" y="0" font-size="8.4" text-anchor="middle" fill="#1a1a1a" transform="translate(71.77 485.40) scale(0.85 1)">5</text>
<line x1="101.94" y1="473.9" x2="101.94" y2="476.4" stroke="#333" stroke-width="1"/>
<text x="0" y="0" font-size="8.4" text-anchor="middle" fill="#1a1a1a" transform="translate(101.94 485.40) scale(0.85 1)">10</text>
<line x1="132.11" y1="473.9" x2="132.11" y2="476.4" stroke="#333" stroke-width="1"/>
<text x="0" y="0" font-size="8.4" text-anchor="middle" fill="#1a1a1a" transform="translate(132.11 485.40) scale(0.85 1)">15</text>
<line x1="162.28" y1="473.9" x2="162.28" y2="476.4" stroke="#333" stroke-width="1"/>
<text x="0" y="0" font-size="8.4" text-anchor="middle" fill="#1a1a1a" transform="translate(162.28 485.40) scale(0.85 1)">20</text>
<text x="103.40" y="499.20" font-size="9.7" text-anchor="middle" fill="#1a1a1a">Mitomycin-C (ng/mL)</text>
<text x="23.20" y="418.50" font-size="9.2" text-anchor="middle" fill="#1a1a1a" transform="rotate(-90 23.2 418.5)">% Radial formation</text>
<polyline points="41.60,464.56 71.77,455.22 101.94,445.88 162.28,380.50" fill="none" stroke="#a02224" stroke-width="1.05"/>
<polyline points="41.60,473.90 71.77,464.56 101.94,473.90 162.28,455.22" fill="none" stroke="#333" stroke-width="1.1"/>
<rect x="39.800000000000004" y="472.09999999999997" width="3.6" height="3.6" fill="#222"/>
<rect x="69.97000000000001" y="462.76" width="3.6" height="3.6" fill="#222"/>
<rect x="100.14" y="472.09999999999997" width="3.6" height="3.6" fill="#222"/>
<rect x="160.48" y="453.41999999999996" width="3.6" height="3.6" fill="#222"/>
<path d="M39.7,466.06 L41.6,462.66 L43.5,466.06 Z" fill="#a82020"/>
<path d="M69.87,456.71999999999997 L71.77000000000001,453.32 L73.67000000000002,456.71999999999997 Z" fill="#a82020"/>
<path d="M100.03999999999999,447.38 L101.94,443.98 L103.84,447.38 Z" fill="#a82020"/>
<path d="M160.38,382.0 L162.28,378.6 L164.18,382.0 Z" fill="#a82020"/>
<line x1="48.5" y1="413.5" x2="55" y2="413.5" stroke="#222" stroke-width="1"/>
<rect x="49.8" y="411.5" width="4" height="4" fill="#222"/>
<text x="56.30" y="417.40" font-size="9" text-anchor="start" fill="#1a1a1a">WT</text>
<line x1="48.5" y1="425.5" x2="55" y2="425.5" stroke="#a8282a" stroke-width="1"/>
<path d="M49.6,427.3 L51.8,423.3 L54,427.3 Z" fill="#b02020"/>
<text x="56.3" y="429.4" font-size="9" fill="#1a1a1a"><tspan font-style="italic">Fancc</tspan><tspan font-size="6" dy="-3" letter-spacing="0.4" font-style="italic">-/-</tspan></text>
<rect x="49.6" y="358.3" width="58" height="25.3" fill="#fff" stroke="#222" stroke-width="1.1"/>
<line x1="85.8" y1="358.3" x2="85.8" y2="383.6" stroke="#222" stroke-width="1.1"/>
<g filter="url(#blur06)" fill="none" stroke="#505050" stroke-width="2.3" stroke-linecap="round" stroke-linejoin="round"><path d="M56.6,376.4 L63.3,368.4 L65.7,371.2 L68.6,366.4 L71.4,367.4 L72.2,371.2 L76.3,375.2 L74.4,377.8 L69,373.2 L62.6,374.2 L58.2,377.6 Z"/><path d="M93.9,367.2 C93.5,364.6 96.5,363.2 98.4,365 C100,367 97,370 95.6,372.5 C94.6,374.5 94.2,376 94.2,377.2 M97.6,371.6 C98.6,373.2 99.4,375.5 99.9,377.6"/></g>
<line x1="225.5" y1="357.1" x2="225.5" y2="474.5" stroke="#333" stroke-width="1"/>
<line x1="225.5" y1="474.5" x2="340.55" y2="474.5" stroke="#222" stroke-width="1.3"/>
<line x1="223.0" y1="474.5" x2="225.5" y2="474.5" stroke="#333" stroke-width="1"/>
<text x="0" y="0" font-size="8.4" text-anchor="end" fill="#1a1a1a" transform="translate(219.50 477.50) scale(0.88 1)">0</text>
<line x1="223.0" y1="459.8875" x2="225.5" y2="459.8875" stroke="#333" stroke-width="1"/>
<text x="0" y="0" font-size="8.4" text-anchor="end" fill="#1a1a1a" transform="translate(219.50 462.89) scale(0.88 1)">10</text>
<line x1="223.0" y1="445.275" x2="225.5" y2="445.275" stroke="#333" stroke-width="1"/>
<text x="0" y="0" font-size="8.4" text-anchor="end" fill="#1a1a1a" transform="translate(219.50 448.27) scale(0.88 1)">20</text>
<line x1="223.0" y1="430.6625" x2="225.5" y2="430.6625" stroke="#333" stroke-width="1"/>
<text x="0" y="0" font-size="8.4" text-anchor="end" fill="#1a1a1a" transform="translate(219.50 433.66) scale(0.88 1)">30</text>
<line x1="223.0" y1="416.05" x2="225.5" y2="416.05" stroke="#333" stroke-width="1"/>
<text x="0" y="0" font-size="8.4" text-anchor="end" fill="#1a1a1a" transform="translate(219.50 419.05) scale(0.88 1)">40</text>
<line x1="223.0" y1="401.4375" x2="225.5" y2="401.4375" stroke="#333" stroke-width="1"/>
<text x="0" y="0" font-size="8.4" text-anchor="end" fill="#1a1a1a" transform="translate(219.50 404.44) scale(0.88 1)">50</text>
<line x1="223.0" y1="386.82500000000005" x2="225.5" y2="386.82500000000005" stroke="#333" stroke-width="1"/>
<text x="0" y="0" font-size="8.4" text-anchor="end" fill="#1a1a1a" transform="translate(219.50 389.83) scale(0.88 1)">60</text>
<line x1="223.0" y1="372.21250000000003" x2="225.5" y2="372.21250000000003" stroke="#333" stroke-width="1"/>
<text x="0" y="0" font-size="8.4" text-anchor="end" fill="#1a1a1a" transform="translate(219.50 375.21) scale(0.88 1)">70</text>
<line x1="223.0" y1="357.6" x2="225.5" y2="357.6" stroke="#333" stroke-width="1"/>
<text x="0" y="0" font-size="8.4" text-anchor="end" fill="#1a1a1a" transform="translate(219.50 360.60) scale(0.88 1)">80</text>
<line x1="237.04" y1="473.3" x2="237.04" y2="476.1" stroke="#333" stroke-width="0.8"/>
<line x1="243.80" y1="473.3" x2="243.80" y2="476.1" stroke="#333" stroke-width="0.8"/>
<line x1="248.59" y1="473.3" x2="248.59" y2="476.1" stroke="#333" stroke-width="0.8"/>
<line x1="252.31" y1="473.3" x2="252.31" y2="476.1" stroke="#333" stroke-width="0.8"/>
<line x1="255.34" y1="473.3" x2="255.34" y2="476.1" stroke="#333" stroke-width="0.8"/>
<line x1="257.91" y1="473.3" x2="257.91" y2="476.1" stroke="#333" stroke-width="0.8"/>
<line x1="260.13" y1="473.3" x2="260.13" y2="476.1" stroke="#333" stroke-width="0.8"/>
<line x1="262.10" y1="473.3" x2="262.10" y2="476.1" stroke="#333" stroke-width="0.8"/>
<line x1="275.39" y1="473.3" x2="275.39" y2="476.1" stroke="#333" stroke-width="0.8"/>
<line x1="282.15" y1="473.3" x2="282.15" y2="476.1" stroke="#333" stroke-width="0.8"/>
<line x1="286.94" y1="473.3" x2="286.94" y2="476.1" stroke="#333" stroke-width="0.8"/>
<line x1="290.66" y1="473.3" x2="290.66" y2="476.1" stroke="#333" stroke-width="0.8"/>
<line x1="293.69" y1="473.3" x2="293.69" y2="476.1" stroke="#333" stroke-width="0.8"/>
<line x1="296.26" y1="473.3" x2="296.26" y2="476.1" stroke="#333" stroke-width="0.8"/>
<line x1="298.48" y1="473.3" x2="298.48" y2="476.1" stroke="#333" stroke-width="0.8"/>
<line x1="300.45" y1="473.3" x2="300.45" y2="476.1" stroke="#333" stroke-width="0.8"/>
<line x1="313.74" y1="473.3" x2="313.74" y2="476.1" stroke="#333" stroke-width="0.8"/>
<line x1="320.50" y1="473.3" x2="320.50" y2="476.1" stroke="#333" stroke-width="0.8"/>
<line x1="325.29" y1="473.3" x2="325.29" y2="476.1" stroke="#333" stroke-width="0.8"/>
<line x1="329.01" y1="473.3" x2="329.01" y2="476.1" stroke="#333" stroke-width="0.8"/>
<line x1="332.04" y1="473.3" x2="332.04" y2="476.1" stroke="#333" stroke-width="0.8"/>
<line x1="334.61" y1="473.3" x2="334.61" y2="476.1" stroke="#333" stroke-width="0.8"/>
<line x1="336.83" y1="473.3" x2="336.83" y2="476.1" stroke="#333" stroke-width="0.8"/>
<line x1="338.80" y1="473.3" x2="338.80" y2="476.1" stroke="#333" stroke-width="0.8"/>
<line x1="225.5" y1="474.5" x2="225.5" y2="471.5" stroke="#333" stroke-width="1"/>
<text x="225.50" y="486.50" font-size="8" text-anchor="middle" fill="#1a1a1a">1</text>
<line x1="263.85" y1="474.5" x2="263.85" y2="471.5" stroke="#333" stroke-width="1"/>
<text x="263.85" y="486.50" font-size="8" text-anchor="middle" fill="#1a1a1a">10</text>
<line x1="302.2" y1="474.5" x2="302.2" y2="471.5" stroke="#333" stroke-width="1"/>
<text x="302.20" y="486.50" font-size="8" text-anchor="middle" fill="#1a1a1a">100</text>
<line x1="340.55" y1="474.5" x2="340.55" y2="471.5" stroke="#333" stroke-width="1"/>
<text x="340.55" y="486.50" font-size="8" text-anchor="middle" fill="#1a1a1a">1000</text>
<text x="283.42" y="499.50" font-size="9.7" text-anchor="middle" fill="#1a1a1a">Mitomycin-C (nM)</text>
<text x="206.50" y="416.00" font-size="9.5" text-anchor="middle" fill="#1a1a1a" transform="rotate(-90 206.5 416)">CFU/20,000 cells</text>
<polyline points="225.50,372.21 263.85,392.67 302.20,437.97 340.55,474.50" fill="none" stroke="#111111" stroke-width="1.5"/>
<circle cx="225.50" cy="372.21" r="2.2" fill="#111111"/>
<circle cx="263.85" cy="392.67" r="2.2" fill="#111111"/>
<circle cx="302.20" cy="437.97" r="2.2" fill="#111111"/>
<circle cx="340.55" cy="474.50" r="2.2" fill="#111111"/>
<polyline points="225.50,392.67 263.85,452.58 302.20,474.50 340.55,474.50" fill="none" stroke="#a82a2a" stroke-width="1.2"/>
<path d="M223.30,394.47 L225.50,390.47 L227.70,394.47 Z" fill="#a82a2a"/>
<path d="M261.65,454.38 L263.85,450.38 L266.05,454.38 Z" fill="#a82a2a"/>
<path d="M300.00,476.30 L302.20,472.30 L304.40,476.30 Z" fill="#a82a2a"/>
<path d="M338.35,476.30 L340.55,472.30 L342.75,476.30 Z" fill="#a82a2a"/>
<polyline points="225.50,405.82 263.85,416.05 302.20,442.35 340.55,474.50" fill="none" stroke="#c8c8d0" stroke-width="1.1"/>
<rect x="223.70" y="404.02" width="3.6" height="3.6" fill="#c8c8d0"/>
<rect x="262.05" y="414.25" width="3.6" height="3.6" fill="#c8c8d0"/>
<rect x="300.40" y="440.55" width="3.6" height="3.6" fill="#c8c8d0"/>
<rect x="338.75" y="472.70" width="3.6" height="3.6" fill="#c8c8d0"/>
<polyline points="225.50,408.74 263.85,449.66 302.20,474.50 340.55,474.50" fill="none" stroke="#d8949c" stroke-width="1.2"/>
<path d="M223.30,410.54 L225.50,406.54 L227.70,410.54 Z" fill="#d8949c"/>
<path d="M261.65,451.46 L263.85,447.46 L266.05,451.46 Z" fill="#d8949c"/>
<path d="M300.00,476.30 L302.20,472.30 L304.40,476.30 Z" fill="#d8949c"/>
<path d="M338.35,476.30 L340.55,472.30 L342.75,476.30 Z" fill="#d8949c"/>
<line x1="225.50" y1="370.02" x2="225.50" y2="374.40" stroke="#222" stroke-width="1"/>
<line x1="263.85" y1="389.75" x2="263.85" y2="395.59" stroke="#222" stroke-width="1"/>
<line x1="302.20" y1="434.32" x2="302.20" y2="441.62" stroke="#222" stroke-width="1"/>
<line x1="263.85" y1="449.66" x2="263.85" y2="455.50" stroke="#222" stroke-width="1"/>
<line x1="291.5" y1="365.4" x2="298.5" y2="365.4" stroke="#111" stroke-width="1.2"/>
<circle cx="295" cy="365.4" r="2.1" fill="#111"/>
<text x="299.30" y="368.50" font-size="8.6" text-anchor="start" fill="#1a1a1a">FL WT</text>
<line x1="291.5" y1="374.8" x2="298.5" y2="374.8" stroke="#a82a2a" stroke-width="1.2"/>
<path d="M292.8,376.6 L295,372.6 L297.2,376.6 Z" fill="#a82a2a"/>
<text x="299.3" y="377.90000000000003" font-size="8.6" fill="#1a1a1a">FL <tspan font-style="italic">Fancc</tspan><tspan font-size="5.8" dy="-2.8" letter-spacing="0.4" font-style="italic">-/-</tspan></text>
<line x1="291.5" y1="384.2" x2="298.5" y2="384.2" stroke="#c4c4cc" stroke-width="1.2"/>
<rect x="293.2" y="382.4" width="3.6" height="3.6" fill="#c4c4cc"/>
<text x="299.30" y="387.30" font-size="8.6" text-anchor="start" fill="#1a1a1a">BM WT</text>
<line x1="291.5" y1="393.6" x2="298.5" y2="393.6" stroke="#d8909a" stroke-width="1.2"/>
<path d="M292.8,395.40000000000003 L295,391.40000000000003 L297.2,395.40000000000003 Z" fill="#d8909a"/>
<text x="299.3" y="396.70000000000005" font-size="8.6" fill="#1a1a1a">BM <tspan font-style="italic">Fancc</tspan><tspan font-size="5.8" dy="-2.8" letter-spacing="0.4" font-style="italic">-/-</tspan></text>
<text x="1.00" y="516.20" font-size="12" text-anchor="start" font-weight="bold" fill="#111">K</text>
<line x1="73.1" y1="519.09" x2="73.1" y2="678.62" stroke="#333" stroke-width="1"/>
<line x1="69.6" y1="678.62" x2="73.1" y2="678.62" stroke="#333" stroke-width="1"/>
<text x="64.10" y="683.02" font-size="10.2" text-anchor="end" fill="#1a1a1a">-120</text>
<line x1="69.6" y1="660.95" x2="73.1" y2="660.95" stroke="#333" stroke-width="1"/>
<text x="64.10" y="665.35" font-size="10.2" text-anchor="end" fill="#1a1a1a">-100</text>
<line x1="69.6" y1="643.28" x2="73.1" y2="643.28" stroke="#333" stroke-width="1"/>
<text x="64.10" y="647.68" font-size="10.2" text-anchor="end" fill="#1a1a1a">-80</text>
<line x1="69.6" y1="625.61" x2="73.1" y2="625.61" stroke="#333" stroke-width="1"/>
<text x="64.10" y="630.01" font-size="10.2" text-anchor="end" fill="#1a1a1a">-60</text>
<line x1="69.6" y1="607.94" x2="73.1" y2="607.94" stroke="#333" stroke-width="1"/>
<text x="64.10" y="612.34" font-size="10.2" text-anchor="end" fill="#1a1a1a">-40</text>
<line x1="69.6" y1="590.27" x2="73.1" y2="590.27" stroke="#333" stroke-width="1"/>
<text x="64.10" y="594.67" font-size="10.2" text-anchor="end" fill="#1a1a1a">-20</text>
<line x1="69.6" y1="572.6" x2="73.1" y2="572.6" stroke="#333" stroke-width="1"/>
<text x="64.10" y="577.00" font-size="10.2" text-anchor="end" fill="#1a1a1a">0</text>
<line x1="69.6" y1="554.9300000000001" x2="73.1" y2="554.9300000000001" stroke="#333" stroke-width="1"/>
<text x="64.10" y="559.33" font-size="10.2" text-anchor="end" fill="#1a1a1a">20</text>
<line x1="69.6" y1="537.26" x2="73.1" y2="537.26" stroke="#333" stroke-width="1"/>
<text x="64.10" y="541.66" font-size="10.2" text-anchor="end" fill="#1a1a1a">40</text>
<line x1="69.6" y1="519.59" x2="73.1" y2="519.59" stroke="#333" stroke-width="1"/>
<text x="64.10" y="523.99" font-size="10.2" text-anchor="end" fill="#1a1a1a">60</text>
<line x1="73.1" y1="572.6" x2="348.19999999999993" y2="572.6" stroke="#333" stroke-width="1"/>
<line x1="86.20" y1="572.6" x2="86.20" y2="575.1" stroke="#333" stroke-width="0.9"/>
<line x1="99.30" y1="572.6" x2="99.30" y2="575.1" stroke="#333" stroke-width="0.9"/>
<line x1="112.40" y1="572.6" x2="112.40" y2="575.1" stroke="#333" stroke-width="0.9"/>
<line x1="125.50" y1="572.6" x2="125.50" y2="575.1" stroke="#333" stroke-width="0.9"/>
<line x1="138.60" y1="572.6" x2="138.60" y2="575.1" stroke="#333" stroke-width="0.9"/>
<line x1="151.70" y1="572.6" x2="151.70" y2="575.1" stroke="#333" stroke-width="0.9"/>
<line x1="164.80" y1="572.6" x2="164.80" y2="575.1" stroke="#333" stroke-width="0.9"/>
<line x1="177.90" y1="572.6" x2="177.90" y2="575.1" stroke="#333" stroke-width="0.9"/>
<line x1="191.00" y1="572.6" x2="191.00" y2="575.1" stroke="#333" stroke-width="0.9"/>
<line x1="204.10" y1="572.6" x2="204.10" y2="575.1" stroke="#333" stroke-width="0.9"/>
<line x1="217.20" y1="572.6" x2="217.20" y2="575.1" stroke="#333" stroke-width="0.9"/>
<line x1="230.30" y1="572.6" x2="230.30" y2="575.1" stroke="#333" stroke-width="0.9"/>
<line x1="243.40" y1="572.6" x2="243.40" y2="575.1" stroke="#333" stroke-width="0.9"/>
<line x1="256.50" y1="572.6" x2="256.50" y2="575.1" stroke="#333" stroke-width="0.9"/>
<line x1="269.60" y1="572.6" x2="269.60" y2="575.1" stroke="#333" stroke-width="0.9"/>
<line x1="282.70" y1="572.6" x2="282.70" y2="575.1" stroke="#333" stroke-width="0.9"/>
<line x1="295.80" y1="572.6" x2="295.80" y2="575.1" stroke="#333" stroke-width="0.9"/>
<line x1="308.90" y1="572.6" x2="308.90" y2="575.1" stroke="#333" stroke-width="0.9"/>
<line x1="322.00" y1="572.6" x2="322.00" y2="575.1" stroke="#333" stroke-width="0.9"/>
<line x1="335.10" y1="572.6" x2="335.10" y2="575.1" stroke="#333" stroke-width="0.9"/>
<line x1="348.20" y1="572.6" x2="348.20" y2="575.1" stroke="#333" stroke-width="0.9"/>
<rect x="75.25" y="572.60" width="9.4" height="50.36" fill="#c8281e" stroke="#2a2a2a" stroke-width="1"/>
<line x1="79.95" y1="587.62" x2="79.95" y2="658.30" stroke="#222" stroke-width="1"/>
<line x1="78.75" y1="587.62" x2="81.15" y2="587.62" stroke="#222" stroke-width="1"/>
<line x1="78.75" y1="658.30" x2="81.15" y2="658.30" stroke="#222" stroke-width="1"/>
<text x="83.55" y="666.30" font-size="9" text-anchor="end" fill="#1a1a1a" transform="rotate(-90 83.54999999999998 666.3)">KC</text>
<rect x="88.35" y="572.60" width="9.4" height="6.01" fill="#c8281e" stroke="#2a2a2a" stroke-width="1"/>
<line x1="93.05" y1="577.28" x2="93.05" y2="579.93" stroke="#222" stroke-width="1"/>
<line x1="91.85" y1="577.28" x2="94.25" y2="577.28" stroke="#222" stroke-width="1"/>
<line x1="91.85" y1="579.93" x2="94.25" y2="579.93" stroke="#222" stroke-width="1"/>
<text x="96.65" y="587.30" font-size="9" text-anchor="end" fill="#1a1a1a" transform="rotate(-90 96.64999999999999 587.3)">IP-10</text>
<rect x="101.45" y="565.00" width="9.4" height="7.60" fill="#b4b4b4" stroke="#2a2a2a" stroke-width="1"/>
<line x1="106.15" y1="557.93" x2="106.15" y2="572.07" stroke="#222" stroke-width="1"/>
<line x1="104.95" y1="557.93" x2="107.35" y2="557.93" stroke="#222" stroke-width="1"/>
<line x1="104.95" y1="572.07" x2="107.35" y2="572.07" stroke="#222" stroke-width="1"/>
<text x="109.75" y="577.00" font-size="9" text-anchor="end" fill="#1a1a1a" transform="rotate(-90 109.74999999999999 577.0)">TNF-α</text>
<rect x="114.55" y="563.94" width="9.4" height="8.66" fill="#b4b4b4" stroke="#2a2a2a" stroke-width="1"/>
<line x1="119.25" y1="558.64" x2="119.25" y2="569.24" stroke="#222" stroke-width="1"/>
<line x1="118.05" y1="558.64" x2="120.45" y2="558.64" stroke="#222" stroke-width="1"/>
<line x1="118.05" y1="569.24" x2="120.45" y2="569.24" stroke="#222" stroke-width="1"/>
<text x="122.85" y="577.00" font-size="9" text-anchor="end" fill="#1a1a1a" transform="rotate(-90 122.84999999999998 577.0)">I-309</text>
<rect x="127.65" y="562.70" width="9.4" height="9.90" fill="#b4b4b4" stroke="#2a2a2a" stroke-width="1"/>
<line x1="132.35" y1="559.17" x2="132.35" y2="566.24" stroke="#222" stroke-width="1"/>
<line x1="131.15" y1="559.17" x2="133.55" y2="559.17" stroke="#222" stroke-width="1"/>
<line x1="131.15" y1="566.24" x2="133.55" y2="566.24" stroke="#222" stroke-width="1"/>
<text x="135.95" y="577.00" font-size="9" text-anchor="end" fill="#1a1a1a" transform="rotate(-90 135.95 577.0)">JE</text>
<rect x="140.75" y="561.29" width="9.4" height="11.31" fill="#b4b4b4" stroke="#2a2a2a" stroke-width="1"/>
<line x1="145.45" y1="555.99" x2="145.45" y2="566.59" stroke="#222" stroke-width="1"/>
<line x1="144.25" y1="555.99" x2="146.65" y2="555.99" stroke="#222" stroke-width="1"/>
<line x1="144.25" y1="566.59" x2="146.65" y2="566.59" stroke="#222" stroke-width="1"/>
<text x="149.05" y="577.00" font-size="9" text-anchor="end" fill="#1a1a1a" transform="rotate(-90 149.04999999999998 577.0)">MIP-1β</text>
<rect x="153.85" y="559.88" width="9.4" height="12.72" fill="#b4b4b4" stroke="#2a2a2a" stroke-width="1"/>
<line x1="158.55" y1="551.04" x2="158.55" y2="568.71" stroke="#222" stroke-width="1"/>
<line x1="157.35" y1="551.04" x2="159.75" y2="551.04" stroke="#222" stroke-width="1"/>
<line x1="157.35" y1="568.71" x2="159.75" y2="568.71" stroke="#222" stroke-width="1"/>
<text x="162.15" y="577.00" font-size="9" text-anchor="end" fill="#1a1a1a" transform="rotate(-90 162.15 577.0)">GM-CSF</text>
<rect x="166.95" y="558.99" width="9.4" height="13.61" fill="#b4b4b4" stroke="#2a2a2a" stroke-width="1"/>
<line x1="171.65" y1="552.81" x2="171.65" y2="565.18" stroke="#222" stroke-width="1"/>
<line x1="170.45" y1="552.81" x2="172.85" y2="552.81" stroke="#222" stroke-width="1"/>
<line x1="170.45" y1="565.18" x2="172.85" y2="565.18" stroke="#222" stroke-width="1"/>
<text x="175.25" y="577.00" font-size="9" text-anchor="end" fill="#1a1a1a" transform="rotate(-90 175.25 577.0)">IL-16</text>
<rect x="180.05" y="557.23" width="9.4" height="15.37" fill="#b4b4b4" stroke="#2a2a2a" stroke-width="1"/>
<line x1="184.75" y1="550.16" x2="184.75" y2="564.30" stroke="#222" stroke-width="1"/>
<line x1="183.55" y1="550.16" x2="185.95" y2="550.16" stroke="#222" stroke-width="1"/>
<line x1="183.55" y1="564.30" x2="185.95" y2="564.30" stroke="#222" stroke-width="1"/>
<text x="188.35" y="577.00" font-size="9" text-anchor="end" fill="#1a1a1a" transform="rotate(-90 188.35 577.0)">IL-3</text>
<rect x="193.15" y="557.14" width="9.4" height="15.46" fill="#b4b4b4" stroke="#2a2a2a" stroke-width="1"/>
<line x1="197.85" y1="550.95" x2="197.85" y2="563.32" stroke="#222" stroke-width="1"/>
<line x1="196.65" y1="550.95" x2="199.05" y2="550.95" stroke="#222" stroke-width="1"/>
<line x1="196.65" y1="563.32" x2="199.05" y2="563.32" stroke="#222" stroke-width="1"/>
<text x="201.45" y="577.00" font-size="9" text-anchor="end" fill="#1a1a1a" transform="rotate(-90 201.45000000000002 577.0)">MIP-1α</text>
<rect x="206.25" y="556.70" width="9.4" height="15.90" fill="#b4b4b4" stroke="#2a2a2a" stroke-width="1"/>
<line x1="210.95" y1="549.63" x2="210.95" y2="563.76" stroke="#222" stroke-width="1"/>
<line x1="209.75" y1="549.63" x2="212.15" y2="549.63" stroke="#222" stroke-width="1"/>
<line x1="209.75" y1="563.76" x2="212.15" y2="563.76" stroke="#222" stroke-width="1"/>
<text x="214.55" y="577.00" font-size="9" text-anchor="end" fill="#1a1a1a" transform="rotate(-90 214.54999999999998 577.0)">IL-17</text>
<rect x="219.35" y="556.70" width="9.4" height="15.90" fill="#b4b4b4" stroke="#2a2a2a" stroke-width="1"/>
<line x1="224.05" y1="550.51" x2="224.05" y2="562.88" stroke="#222" stroke-width="1"/>
<line x1="222.85" y1="550.51" x2="225.25" y2="550.51" stroke="#222" stroke-width="1"/>
<line x1="222.85" y1="562.88" x2="225.25" y2="562.88" stroke="#222" stroke-width="1"/>
<text x="227.65" y="577.00" font-size="9" text-anchor="end" fill="#1a1a1a" transform="rotate(-90 227.65 577.0)">IL-1α</text>
<rect x="232.45" y="554.40" width="9.4" height="18.20" fill="#b4b4b4" stroke="#2a2a2a" stroke-width="1"/>
<line x1="237.15" y1="549.98" x2="237.15" y2="558.82" stroke="#222" stroke-width="1"/>
<line x1="235.95" y1="549.98" x2="238.35" y2="549.98" stroke="#222" stroke-width="1"/>
<line x1="235.95" y1="558.82" x2="238.35" y2="558.82" stroke="#222" stroke-width="1"/>
<text x="240.75" y="577.00" font-size="9" text-anchor="end" fill="#1a1a1a" transform="rotate(-90 240.75 577.0)">M-CSF</text>
<rect x="245.55" y="553.43" width="9.4" height="19.17" fill="#b4b4b4" stroke="#2a2a2a" stroke-width="1"/>
<line x1="250.25" y1="548.13" x2="250.25" y2="558.73" stroke="#222" stroke-width="1"/>
<line x1="249.05" y1="548.13" x2="251.45" y2="548.13" stroke="#222" stroke-width="1"/>
<line x1="249.05" y1="558.73" x2="251.45" y2="558.73" stroke="#222" stroke-width="1"/>
<text x="253.85" y="577.00" font-size="9" text-anchor="end" fill="#1a1a1a" transform="rotate(-90 253.85 577.0)">sICAM-1</text>
<rect x="258.65" y="553.43" width="9.4" height="19.17" fill="#b4b4b4" stroke="#2a2a2a" stroke-width="1"/>
<line x1="263.35" y1="549.01" x2="263.35" y2="557.85" stroke="#222" stroke-width="1"/>
<line x1="262.15" y1="549.01" x2="264.55" y2="549.01" stroke="#222" stroke-width="1"/>
<line x1="262.15" y1="557.85" x2="264.55" y2="557.85" stroke="#222" stroke-width="1"/>
<text x="266.95" y="577.00" font-size="9" text-anchor="end" fill="#1a1a1a" transform="rotate(-90 266.95 577.0)">TIMP-1</text>
<rect x="271.75" y="552.01" width="9.4" height="20.59" fill="#b4b4b4" stroke="#2a2a2a" stroke-width="1"/>
<line x1="276.45" y1="545.83" x2="276.45" y2="558.20" stroke="#222" stroke-width="1"/>
<line x1="275.25" y1="545.83" x2="277.65" y2="545.83" stroke="#222" stroke-width="1"/>
<line x1="275.25" y1="558.20" x2="277.65" y2="558.20" stroke="#222" stroke-width="1"/>
<text x="280.05" y="577.00" font-size="9" text-anchor="end" fill="#1a1a1a" transform="rotate(-90 280.05 577.0)">G-CSF</text>
<rect x="284.85" y="551.40" width="9.4" height="21.20" fill="#b4b4b4" stroke="#2a2a2a" stroke-width="1"/>
<line x1="289.55" y1="539.91" x2="289.55" y2="562.88" stroke="#222" stroke-width="1"/>
<line x1="288.35" y1="539.91" x2="290.75" y2="539.91" stroke="#222" stroke-width="1"/>
<line x1="288.35" y1="562.88" x2="290.75" y2="562.88" stroke="#222" stroke-width="1"/>
<text x="293.15" y="577.00" font-size="9" text-anchor="end" fill="#1a1a1a" transform="rotate(-90 293.15000000000003 577.0)">IL-6</text>
<rect x="297.95" y="550.34" width="9.4" height="22.26" fill="#b4b4b4" stroke="#2a2a2a" stroke-width="1"/>
<line x1="302.65" y1="545.03" x2="302.65" y2="555.64" stroke="#222" stroke-width="1"/>
<line x1="301.45" y1="545.03" x2="303.85" y2="545.03" stroke="#222" stroke-width="1"/>
<line x1="301.45" y1="555.64" x2="303.85" y2="555.64" stroke="#222" stroke-width="1"/>
<text x="306.25" y="577.00" font-size="9" text-anchor="end" fill="#1a1a1a" transform="rotate(-90 306.25000000000006 577.0)">IL-1β</text>
<rect x="311.05" y="549.28" width="9.4" height="23.32" fill="#b4b4b4" stroke="#2a2a2a" stroke-width="1"/>
<line x1="315.75" y1="545.74" x2="315.75" y2="552.81" stroke="#222" stroke-width="1"/>
<line x1="314.55" y1="545.74" x2="316.95" y2="545.74" stroke="#222" stroke-width="1"/>
<line x1="314.55" y1="552.81" x2="316.95" y2="552.81" stroke="#222" stroke-width="1"/>
<text x="319.35" y="577.00" font-size="9" text-anchor="end" fill="#1a1a1a" transform="rotate(-90 319.35 577.0)">MIP-2</text>
<rect x="324.15" y="548.30" width="9.4" height="24.30" fill="#b4b4b4" stroke="#2a2a2a" stroke-width="1"/>
<line x1="328.85" y1="545.65" x2="328.85" y2="550.95" stroke="#222" stroke-width="1"/>
<line x1="327.65" y1="545.65" x2="330.05" y2="545.65" stroke="#222" stroke-width="1"/>
<line x1="327.65" y1="550.95" x2="330.05" y2="550.95" stroke="#222" stroke-width="1"/>
<text x="332.45" y="577.00" font-size="9" text-anchor="end" fill="#1a1a1a" transform="rotate(-90 332.45 577.0)">RANTES</text>
<rect x="337.25" y="545.30" width="9.4" height="27.30" fill="#b4b4b4" stroke="#2a2a2a" stroke-width="1"/>
<line x1="341.95" y1="536.46" x2="341.95" y2="554.13" stroke="#222" stroke-width="1"/>
<line x1="340.75" y1="536.46" x2="343.15" y2="536.46" stroke="#222" stroke-width="1"/>
<line x1="340.75" y1="554.13" x2="343.15" y2="554.13" stroke="#222" stroke-width="1"/>
<text x="345.55" y="577.00" font-size="9" text-anchor="end" fill="#1a1a1a" transform="rotate(-90 345.55 577.0)">IL-2</text>
<path d="M32,515.3 L40.8,515.3 L32.6,571 Z" fill="url(#gwt)" stroke="#222" stroke-width="0.8"/>
<path d="M32.3,566 L41,683.4 L32.1,683.4 Z" fill="url(#gko)" stroke="#333" stroke-width="0.8"/>
<text x="26.00" y="524.00" font-size="7.5" text-anchor="middle" fill="#1a1a1a" transform="rotate(-90 26.0 524)">WT</text>
<text x="27" y="665.2" font-size="8" text-anchor="middle" fill="#1a1a1a" transform="rotate(-90 27 665.2)"><tspan font-style="italic">Fancc</tspan><tspan font-size="5.4" dy="-2.6" letter-spacing="0.4" font-style="italic">-/-</tspan></text>
<text x="29.70" y="603.60" font-size="11.8" text-anchor="middle" fill="#1a1a1a" transform="rotate(-90 29.7 603.6)">% Difference</text>
</svg>
</body></html>
